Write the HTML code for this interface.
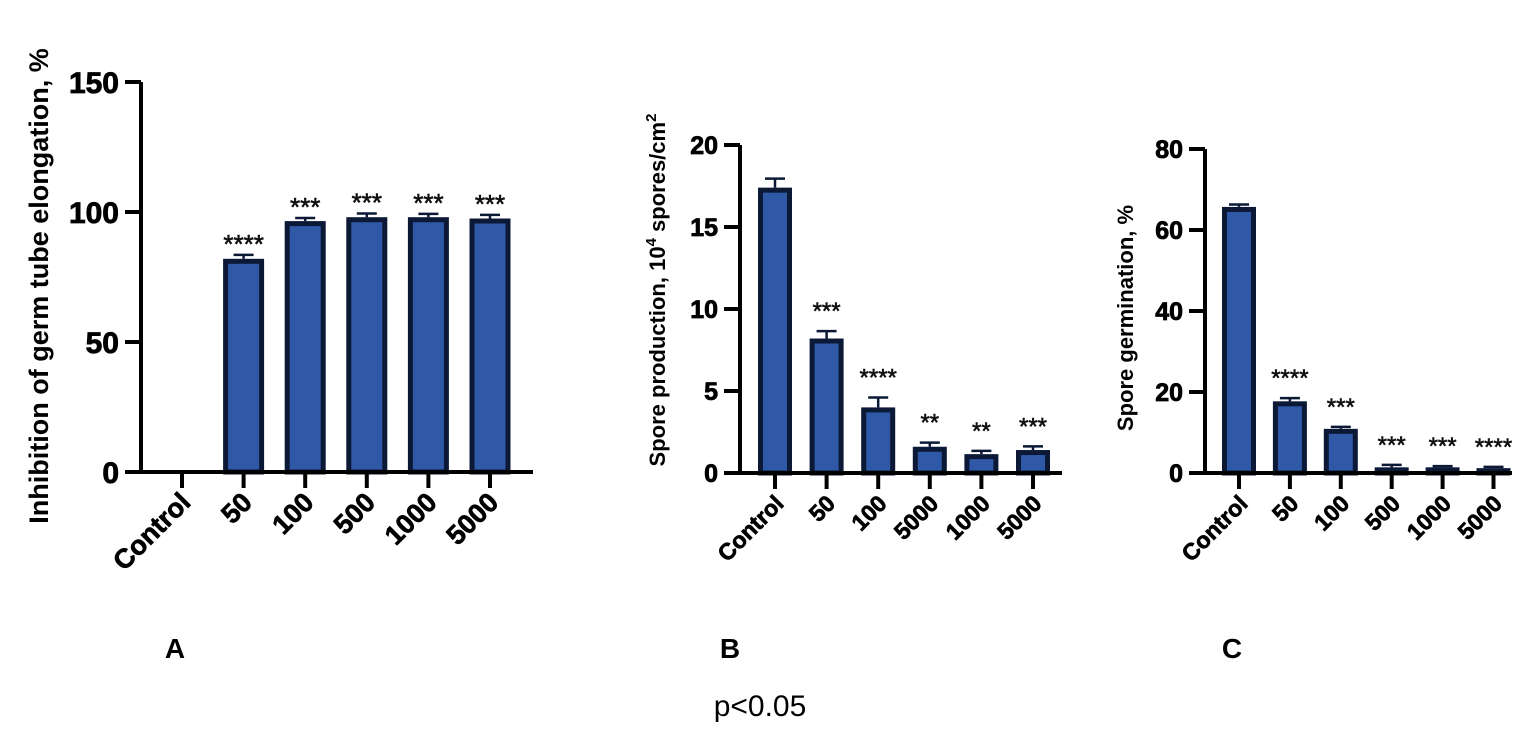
<!DOCTYPE html>
<html><head><meta charset="utf-8">
<style>
html,body{margin:0;padding:0;background:#fff;}
svg{display:block;font-family:"Liberation Sans",Arial,sans-serif;}
</style></head>
<body>
<svg id="fig" width="1535" height="729" viewBox="0 0 1535 729"></svg>
<script>
const aCategories = ["Control","50","100","500","1000","5000"];
const aValues = [0,82,96.5,98,98,97.5];
const aErrors = [0,1.5,1.2,1.4,1.3,1.4];
const aStars = ["","****","***","***","***","***"];
const aTicks = [0,50,100,150];

const bCategories = ["Control","50","100","5000","1000","5000"];
const bValues = [17.4,8.2,4.0,1.6,1.15,1.4];
const bErrors = [0.55,0.45,0.6,0.25,0.2,0.22];
const bStars = ["","***","****","**","**","***"];
const bTicks = [0,5,10,15,20];

const cCategories = ["Control","50","100","500","1000","5000"];
const cValues = [65.7,17.7,10.9,1.4,1.4,1.2];
const cErrors = [0.6,0.8,0.5,0.6,0.3,0.3];
const cStars = ["","****","***","***","***","****"];
const cTicks = [0,20,40,60,80];

const NS="http://www.w3.org/2000/svg";
const svg=document.getElementById('fig');
function mk(tag,attrs,parent){const e=document.createElementNS(NS,tag);for(const k in attrs)e.setAttribute(k,attrs[k]);(parent||svg).appendChild(e);return e;}

function chart(cfg){
  const g=mk('g',{});
  
  
  const y=v=>cfg.y0-(v-cfg.min)/(cfg.max-cfg.min)*(cfg.y0-cfg.yTop);
  const x=i=>cfg.x0+i*cfg.step;
  cfg.values.forEach((v,i)=>{
    if(v<=0) return;
    const top=y(v), bw=cfg.bw;
    const r=mk('rect',{x:x(i)-bw/2+2.5,y:top+2.5,width:bw-5,height:cfg.y0-top-2.5,fill:'#2f58a6',stroke:'#0b1836','stroke-width':5},g);
    
    
    const et=y(v+cfg.errs[i]);
    const el=mk('path',{d:`M${x(i)} ${top} V${et} M${x(i)-cfg.cap} ${et} H${x(i)+cfg.cap}`,stroke:'#0b1836','stroke-width':2.5,fill:'none'},g);
    
    
    if(cfg.stars[i]){
      const t=mk('text',{x:x(i),y:y(v+cfg.errs[i])-cfg.starGap,'text-anchor':'middle','font-size':cfg.starSize,fill:'#111',stroke:'#111','stroke-width':0.6},g);
      t.textContent=cfg.stars[i];
      
      
    }
  });
  const ax=mk('path',{d:`M${cfg.axX} ${y(cfg.max)} V${cfg.y0} M${cfg.axX-16} ${cfg.y0} H${cfg.axEnd}`,stroke:'#000','stroke-width':4,fill:'none'},g);
  
  
  cfg.ticks.forEach(tv=>{
    mk('line',{x1:cfg.axX-16,x2:cfg.axX,y1:y(tv),y2:y(tv),stroke:'#000','stroke-width':4},g);
    const t=mk('text',{x:cfg.axX-22,y:y(tv)+cfg.tickSize*0.36,'text-anchor':'end','font-size':cfg.tickSize,'font-weight':'bold',stroke:'#000','stroke-width':0.8},g);
    t.textContent=tv;
    
    
  });
  cfg.cats.forEach((c,i)=>{
    mk('line',{x1:x(i),x2:x(i),y1:cfg.y0,y2:cfg.y0+16,stroke:'#000','stroke-width':4},g);
    const lx=x(i)+10, ly=cfg.y0+32;
    const t=mk('text',{x:lx,y:ly,'text-anchor':'end','font-size':cfg.xSize,'font-weight':'bold',stroke:'#000','stroke-width':0.7,transform:`rotate(-45 ${lx} ${ly})`},g);
    t.textContent=c;
    
    
  });
  const cy=(cfg.titleY);
  const tt=mk('text',{x:cfg.titleX,y:cy,'text-anchor':'middle','font-size':cfg.titleSize,'font-weight':'bold',transform:`rotate(-90 ${cfg.titleX} ${cy})`},g);
  tt.innerHTML=cfg.title;
  
  
}

chart({name:'chart-a',cats:aCategories,values:aValues,errs:aErrors,stars:aStars,ticks:aTicks,min:0,max:150,
  y0:472,yTop:82,x0:182,step:61.6,bw:41,cap:10,axX:141,axEnd:533,tickSize:30,xSize:27,starSize:26,starGap:2,
  titleX:48,titleY:286,titleSize:27,title:'Inhibition of germ tube elongation, %'});
chart({name:'chart-b',cats:bCategories,values:bValues,errs:bErrors,stars:bStars,ticks:bTicks,min:0,max:20,
  y0:473,yTop:145,x0:775,step:51.6,bw:34,cap:10,axX:740,axEnd:1062,tickSize:25,xSize:23,starSize:24,starGap:12,
  titleX:665,titleY:290,titleSize:22,title:'Spore production, 10<tspan dy="-9" font-size="15">4</tspan><tspan dy="9"> spores/cm</tspan><tspan dy="-9" font-size="15">2</tspan>'});
chart({name:'chart-c',cats:cCategories,values:cValues,errs:cErrors,stars:cStars,ticks:cTicks,min:0,max:80,
  y0:473,yTop:149,x0:1239,step:50.9,bw:34,cap:10,axX:1205,axEnd:1512,tickSize:25,xSize:23,starSize:24,starGap:12,
  titleX:1133,titleY:318,titleSize:22,title:'Spore germination, %'});

[['A',175],['B',730],['C',1232]].forEach(([l,px])=>{
  const t=mk('text',{x:px,y:658,'text-anchor':'middle','font-size':28,'font-weight':'bold'});
  t.textContent=l;
  
  
});
const p=mk('text',{x:760,y:716,'text-anchor':'middle','font-size':30});
p.textContent='p<0.05';


</script>
</body></html>
